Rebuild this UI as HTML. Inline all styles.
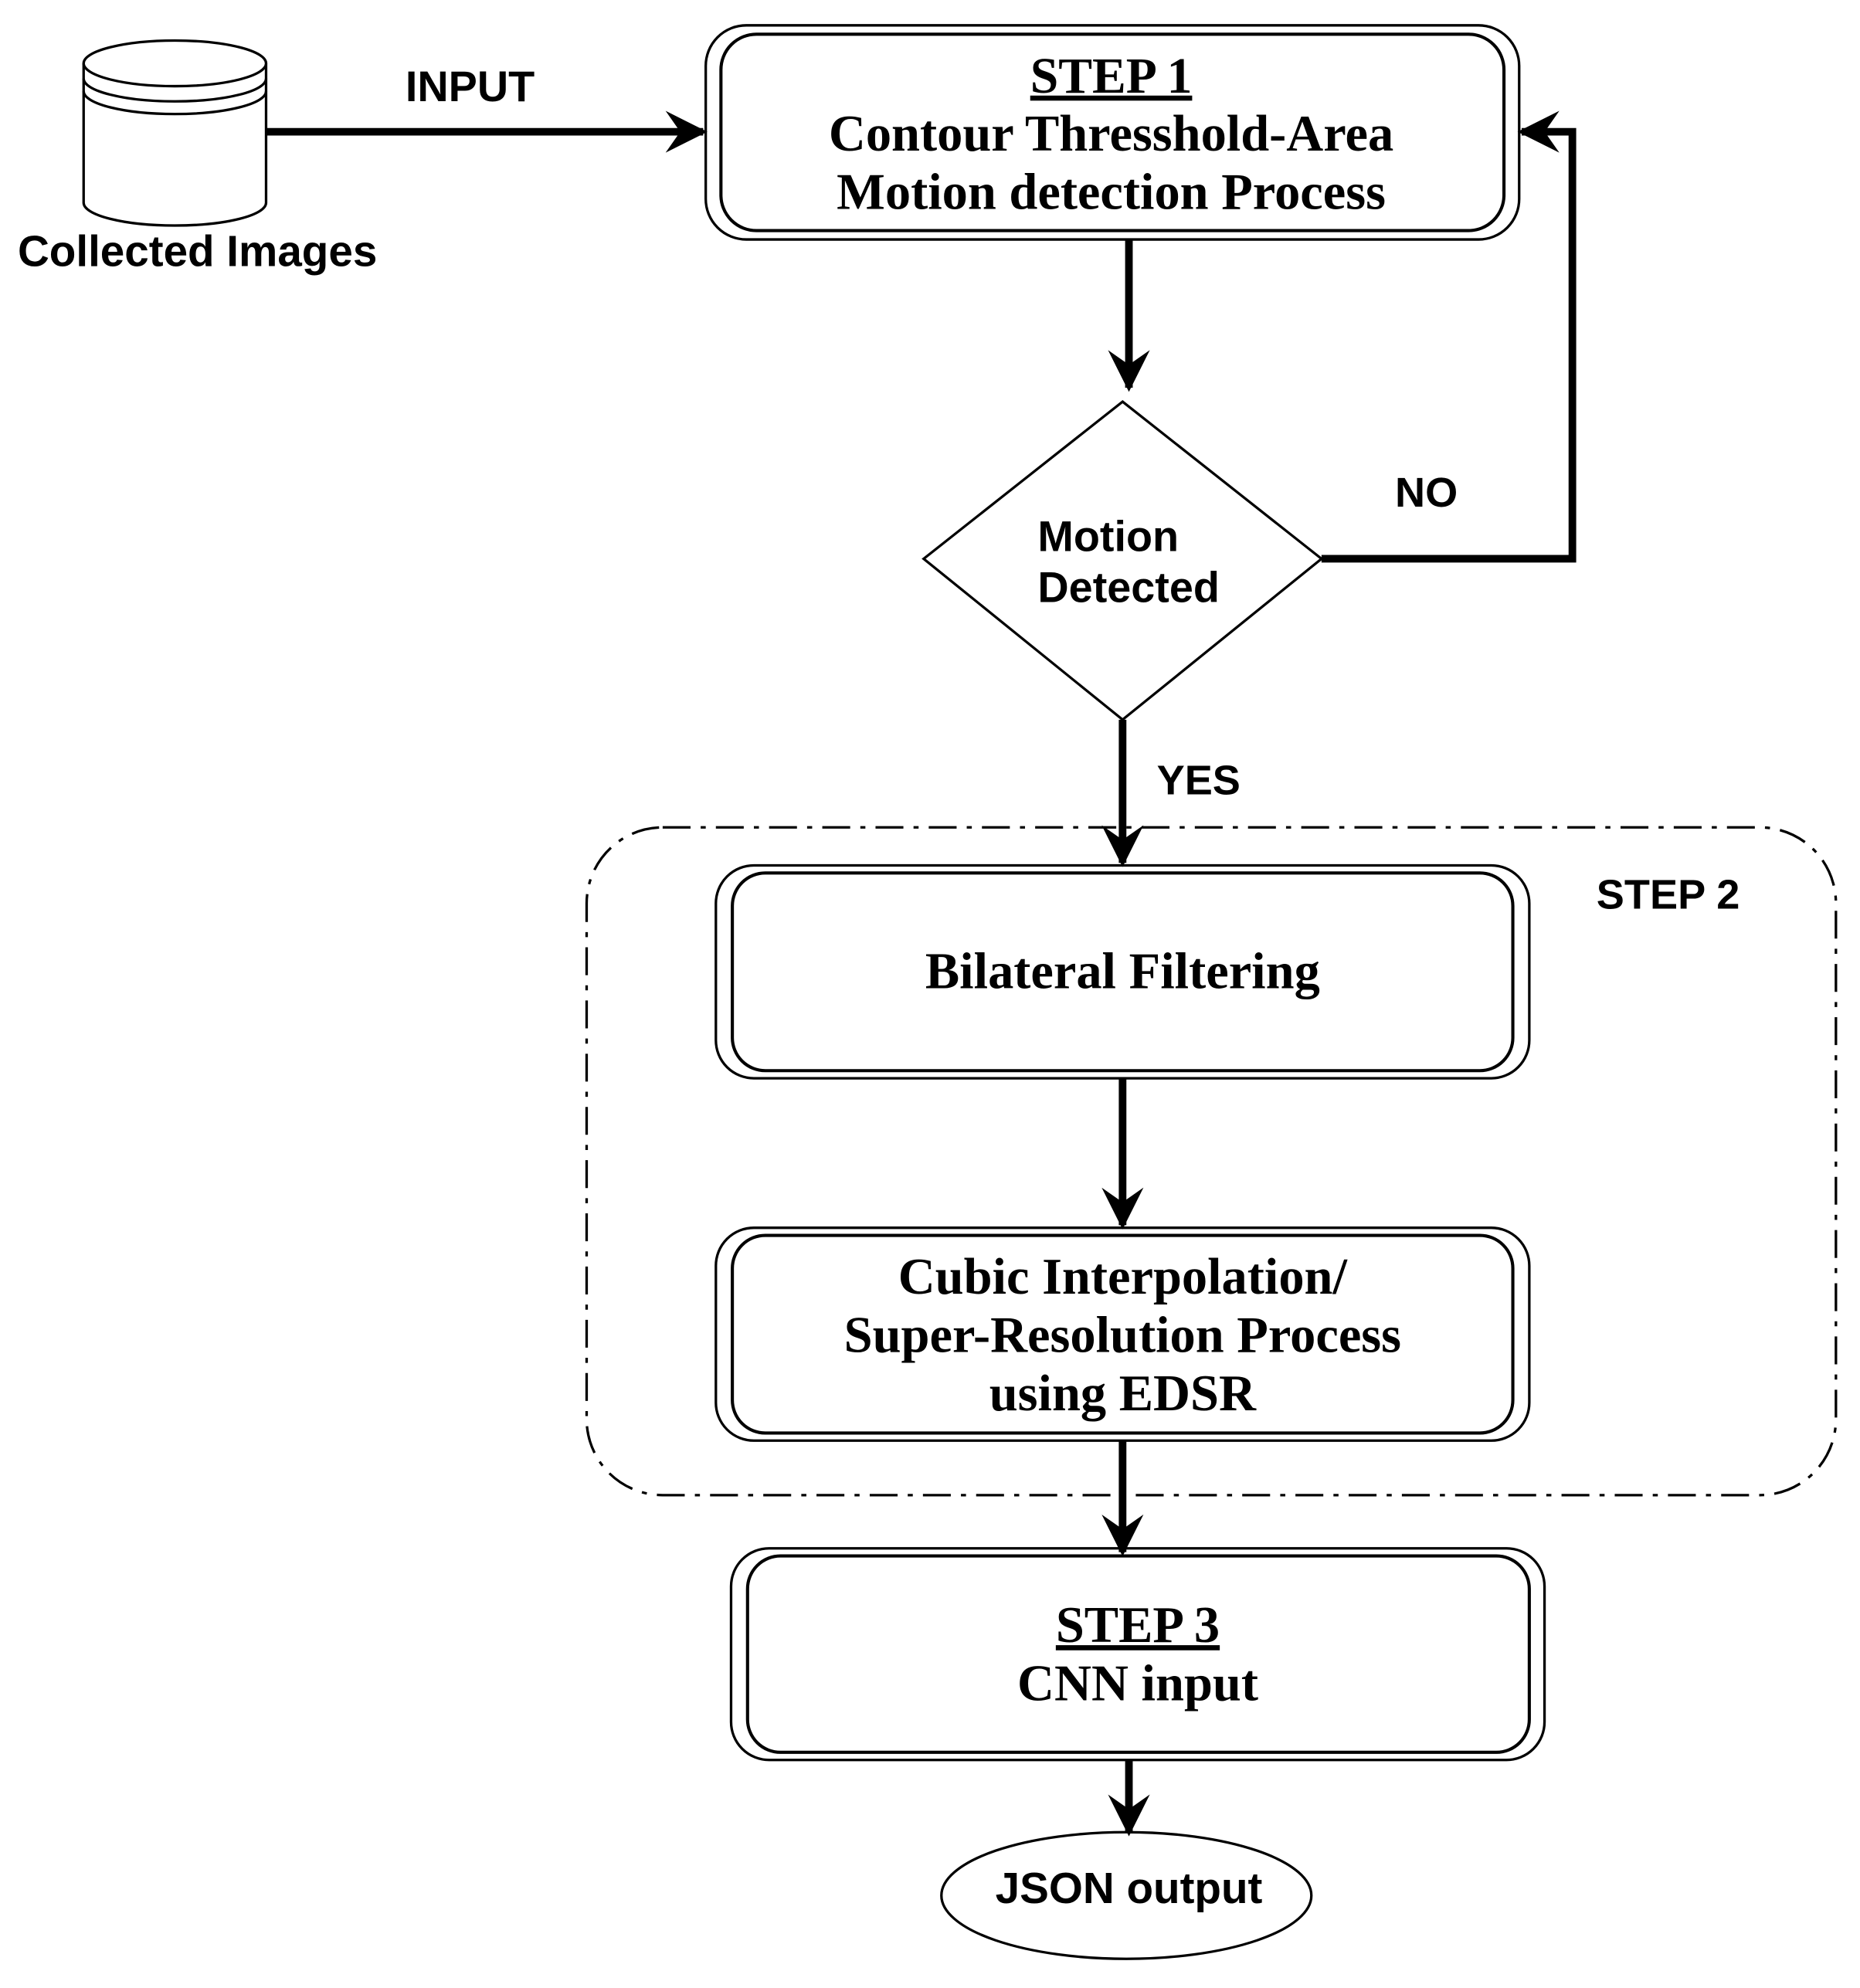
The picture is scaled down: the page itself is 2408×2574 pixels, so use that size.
<!DOCTYPE html>
<html><head><meta charset="utf-8"><style>
html,body{margin:0;padding:0;background:#fff}
svg{display:block}
.s{font-family:"Liberation Sans",sans-serif;font-weight:bold}
.r{font-family:"Liberation Serif",serif;font-weight:bold}
</style></head><body>
<svg width="2408" height="2574" viewBox="0 0 1468 1569" preserveAspectRatio="none" xmlns="http://www.w3.org/2000/svg">
<defs>
<marker id="a" viewBox="0 0 20 20" refX="18" refY="10" markerWidth="5.5" markerHeight="5.5" orient="auto" markerUnits="strokeWidth">
<path d="M0,0 L20,10 L0,20 L7,10 Z" fill="#000"/>
</marker>
</defs>
<g fill="none" stroke="#000">
<path d="M66,50 L66,160 A72,18 0 0 0 210,160 L210,50" stroke-width="2" fill="#fff"/>
<ellipse cx="138" cy="50" rx="72" ry="18" stroke-width="2" fill="#fff"/>
<path d="M66,62 A72,18 0 0 0 210,62 M66,72 A72,18 0 0 0 210,72" stroke-width="2"/>
<line x1="210" y1="104" x2="555" y2="104" stroke-width="6" marker-end="url(#a)"/>
<rect x="557" y="20" width="642" height="169" rx="32" stroke-width="2"/>
<rect x="569" y="27" width="618" height="155" rx="28" stroke-width="2.5"/>
<line x1="891" y1="189" x2="891" y2="306" stroke-width="6" marker-end="url(#a)"/>
<polygon points="886,317 1043,441 886,568 729,441" stroke-width="2"/>
<polyline points="1043,441 1241,441 1241,104 1201,104" stroke-width="6" marker-end="url(#a)"/>
<line x1="886" y1="568" x2="886" y2="681" stroke-width="6" marker-end="url(#a)"/>
<rect x="463" y="653" width="986" height="527" rx="60" stroke-width="2" stroke-dasharray="22,8,4,8"/>
<rect x="565" y="683" width="642" height="168" rx="30" stroke-width="2"/>
<rect x="578" y="689" width="616" height="156" rx="26" stroke-width="2.5"/>
<line x1="886" y1="851" x2="886" y2="967" stroke-width="6" marker-end="url(#a)"/>
<rect x="565" y="969" width="642" height="168" rx="30" stroke-width="2"/>
<rect x="578" y="975" width="616" height="156" rx="26" stroke-width="2.5"/>
<line x1="886" y1="1137" x2="886" y2="1225" stroke-width="6" marker-end="url(#a)"/>
<rect x="577" y="1222" width="642" height="167" rx="30" stroke-width="2"/>
<rect x="590" y="1228" width="617" height="155" rx="26" stroke-width="2.5"/>
<line x1="891" y1="1389" x2="891" y2="1446" stroke-width="6" marker-end="url(#a)"/>
<ellipse cx="889" cy="1496" rx="146" ry="50" stroke-width="2"/>
</g>
<g fill="#000">
<text class="s" x="14" y="210" font-size="34.5">Collected Images</text>
<text class="s" x="320" y="80" font-size="34">INPUT</text>
<text class="r" x="877" y="73" font-size="40" text-anchor="middle" text-decoration="underline">STEP 1</text>
<text class="r" x="877" y="119" font-size="40.5" text-anchor="middle">Contour Thresshold-Area</text>
<text class="r" x="877" y="165" font-size="40.5" text-anchor="middle">Motion detection Process</text>
<text class="s" x="819" y="435" font-size="34">Motion</text>
<text class="s" x="819" y="475" font-size="34">Detected</text>
<text class="s" x="1101" y="400" font-size="33">NO</text>
<text class="s" x="913" y="627" font-size="33">YES</text>
<text class="s" x="1260" y="717" font-size="33">STEP 2</text>
<text class="r" x="886" y="780" font-size="40.5" text-anchor="middle">Bilateral Filtering</text>
<text class="r" x="886" y="1021" font-size="40.5" text-anchor="middle">Cubic Interpolation/</text>
<text class="r" x="886" y="1067" font-size="40.5" text-anchor="middle">Super-Resolution Process</text>
<text class="r" x="886" y="1113" font-size="40.5" text-anchor="middle">using EDSR</text>
<text class="r" x="898" y="1296" font-size="40.5" text-anchor="middle" text-decoration="underline">STEP 3</text>
<text class="r" x="898" y="1342" font-size="40.5" text-anchor="middle">CNN input</text>
<text class="s" x="891" y="1502" font-size="34.5" text-anchor="middle">JSON output</text>
</g>
</svg>
</body></html>
